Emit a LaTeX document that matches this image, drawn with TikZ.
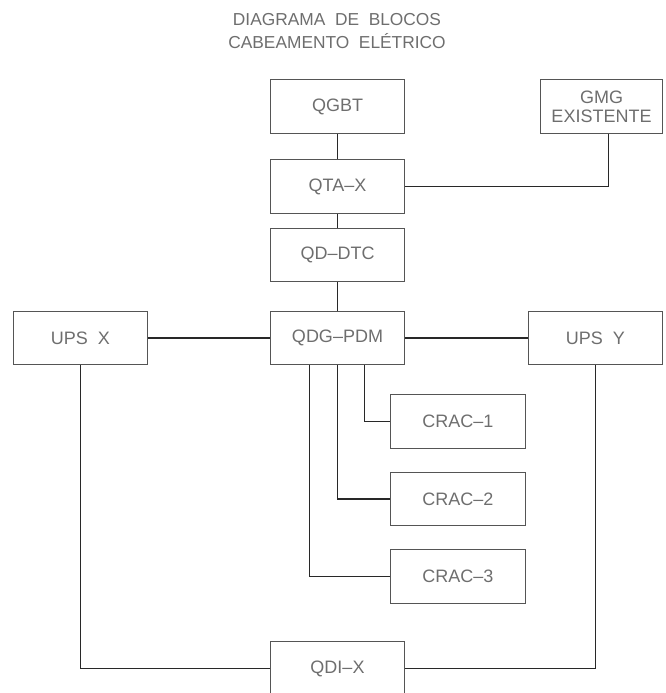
\documentclass[tikz,border=0pt]{standalone}
\usepackage{fontspec}
\setmainfont{Liberation Sans}
\usepackage{tikz}
\usetikzlibrary{positioning}
\definecolor{boxCol}{RGB}{85,85,85}
\definecolor{wireCol}{RGB}{40,40,40}
\definecolor{txtCol}{RGB}{110,110,110}
\tikzset{
  blk/.style={draw=boxCol, line width=0.9pt, align=center, text=txtCol,
              font=\fontsize{13.5}{17}\selectfont, minimum width=101pt,
              minimum height=40pt, inner sep=2pt},
  wire/.style={draw=wireCol, line width=0.9pt},
  ttl/.style={align=center, text=txtCol, font=\fontsize{13}{17}\selectfont},
}
\begin{document}
\begin{tikzpicture}[x=0.75pt, y=-0.75pt]
  \clip (0,0) rectangle (665,693);
  % title
  \node[ttl] (title) at (337,31) {DIAGRAMA\ \ DE\ \ BLOCOS\\CABEAMENTO\ \ ELÉTRICO};
  % supply chain
  \node[blk] (qgbt)  at (337.5,106.5) {QGBT};
  \node[blk, minimum width=92pt] (gmg) at (601.5,106.5) {GMG\\[-3pt]EXISTENTE};
  \node[blk] (qta)   at (337.5,186.5) {QTA--X};
  \node[blk] (qddtc) at (337.5,255)   {QD--DTC};
  % distribution row
  \node[blk] (upsx)  at (80.5,338)  {UPS\ \ X};
  \node[blk] (qdg)   at (337.5,338) {QDG--PDM};
  \node[blk] (upsy)  at (595.5,338) {UPS\ \ Y};
  % cooling units
  \node[blk] (crac1) at (458,421.5) {CRAC--1};
  \node[blk] (crac2) at (458,499)   {CRAC--2};
  \node[blk] (crac3) at (458,576.5) {CRAC--3};
  % output panel
  \node[blk] (qdix)  at (337.5,668.5) {QDI--X};

  % vertical feed
  \draw[wire] (qgbt) -- (qta);
  \draw[wire] (qta) -- (qddtc);
  \draw[wire] (qddtc) -- (qdg);
  \draw[wire] (qta.east) -| ([xshift=5pt]gmg.south);
  % ups links
  \draw[wire] (upsx) -- (qdg);
  \draw[wire] (qdg) -- (upsy);
  \draw[wire] (upsx.south) |- (qdix.west);
  \draw[wire] (upsy.south) |- (qdix.east);
  % crac branches
  \draw[wire] ([xshift=20pt]qdg.south) |- (crac1.west);
  \draw[wire] (qdg.south) |- (crac2.west);
  \draw[wire] ([xshift=-21pt]qdg.south) |- (crac3.west);
\end{tikzpicture}
\end{document}
